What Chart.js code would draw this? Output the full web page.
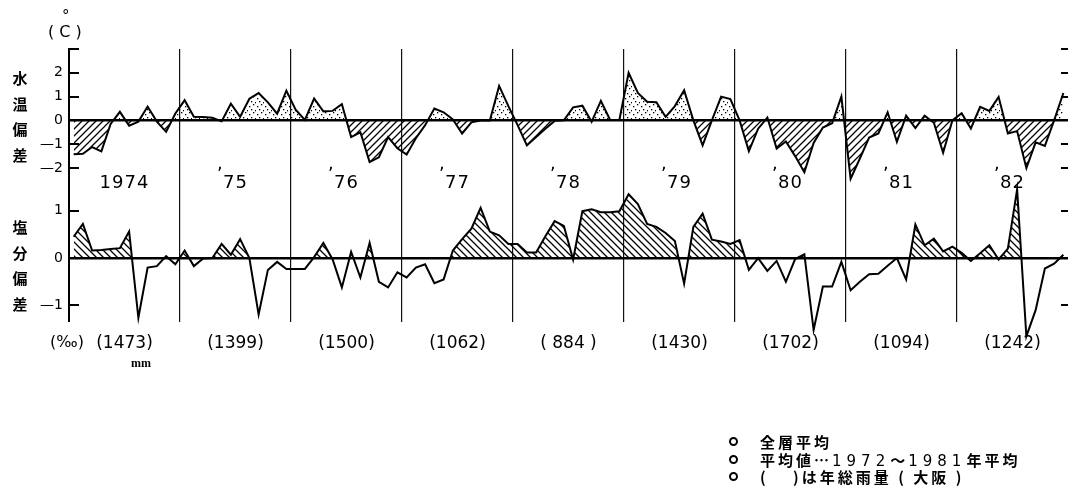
<!DOCTYPE html>
<html>
<head>
<meta charset="utf-8">
<script src="https://cdn.jsdelivr.net/npm/chart.js@4.4.1/dist/chart.umd.min.js"></script>
<style>
  html, body { margin: 0; padding: 0; background: #fff; }
  #wrap { position: relative; width: 1068px; height: 502px; overflow: hidden; font-family: "DejaVu Sans", sans-serif; color: #000; }
  #c { position: absolute; left: 0; top: 0; }
  .t { position: absolute; white-space: nowrap; line-height: 1; }
  .jp { font-family: "Noto Sans CJK JP", sans-serif; font-weight: 700; }
  .vt { position: absolute; left: 12px; width: 16px; font-size: 15px; line-height: 25.5px; text-align: center; }
  .yr { position: absolute; top: 173px; font-size: 18px; line-height: 1; transform: translateX(-50%); letter-spacing: 1px; }
  .yr i { position: absolute; left: -6px; top: -19px; font-style: normal; }
  .rain { position: absolute; top: 334px; font-size: 17px; line-height: 1; transform: translateX(-50%); }
  .note { position: absolute; left: 760px; font-size: 15px; letter-spacing: 3px; line-height: 1; }
  .note .n { letter-spacing: 5px; font-family: "DejaVu Sans", sans-serif; font-weight: 400; }
  .bul { position: absolute; left: 729px; width: 5px; height: 5px; border: 2px solid #000; border-radius: 50%; }
</style>
</head>
<body>
<div id="wrap">
  <canvas id="c" width="1068" height="502"></canvas>

  <div class="t" style="left:48px;top:24px;font-size:16px;">( C )</div>
  <div class="t" style="left:62px;top:9px;font-size:15px;">°</div>

  <div class="vt jp" style="top:65px;">水<br>温<br>偏<br>差</div>
  <div class="vt jp" style="top:214px;">塩<br>分<br>偏<br>差</div>

  <div class="t" style="left:50px;top:334px;font-size:16px;">(‰)</div>
  <div class="t" style="left:131px;top:357px;font-size:12px;font-family:'Liberation Serif',serif;font-weight:700;">mm</div>

  <div class="bul" style="top:437px;"></div>
  <div class="bul" style="top:455px;"></div>
  <div class="bul" style="top:472px;"></div>
  <div class="note jp" style="top:434px;">全層平均</div>
  <div class="note jp" style="top:452px;">平均値…<span class="n">1972</span>〜<span class="n">1981</span>年平均</div>
  <div class="note jp" style="top:469px;">(　 )は年総雨量 ( 大阪 )</div>
</div>

<script>
// monthly deviations from the 1972-1981 mean, Jan 1974 .. Dec 1982
const years = [1974, 1975, 1976, 1977, 1978, 1979, 1980, 1981, 1982];
const rainfall = [1473, 1399, 1500, 1062, 884, 1430, 1702, 1094, 1242]; // mm, Osaka

const tempDev = [
  -1.42, -1.40, -1.12, -1.30, -0.15, 0.36, -0.22, -0.05, 0.58, -0.05, -0.48, 0.29,
  0.85, 0.15, 0.14, 0.11, -0.04, 0.70, 0.15, 0.91, 1.15, 0.76, 0.28, 1.25,
  0.45, 0.02, 0.92, 0.38, 0.40, 0.68, -0.70, -0.50, -1.75, -1.55, -0.70, -1.17,
  -1.44, -0.75, -0.20, 0.50, 0.34, 0.04, -0.55, -0.08, 0.00, 0.00, 1.45, 0.60,
  -0.20, -1.05, -0.70, -0.35, -0.02, 0.00, 0.55, 0.62, -0.06, 0.82, 0.02, 0.02,
  2.00, 1.15, 0.78, 0.76, 0.15, 0.60, 1.27, 0.00, -1.05, 0.00, 1.00, 0.90,
  0.00, -1.30, -0.35, 0.12, -1.18, -0.88, -1.50, -2.18, -0.95, -0.30, -0.12, 1.00,
  -2.45, -1.60, -0.72, -0.55, 0.34, -0.90, 0.20, -0.32, 0.20, -0.10, -1.36, 0.00,
  0.30, -0.34, 0.57, 0.40, 0.99, -0.55, -0.45, -2.00, -0.92, -1.07, 0.00, 1.15
];

const salDev = [
  0.45, 0.72, 0.16, 0.17, 0.19, 0.21, 0.56, -1.26, -0.20, -0.17, 0.04, -0.13,
  0.16, -0.17, -0.01, 0.00, 0.30, 0.07, 0.40, 0.00, -1.19, -0.25, -0.08, -0.23,
  -0.23, -0.23, 0.02, 0.32, -0.03, -0.62, 0.13, -0.41, 0.32, -0.50, -0.62, -0.30,
  -0.41, -0.20, -0.13, -0.53, -0.45, 0.16, 0.40, 0.62, 1.06, 0.56, 0.48, 0.30,
  0.30, 0.12, 0.12, 0.46, 0.78, 0.68, -0.03, 0.99, 1.03, 0.97, 0.97, 0.99,
  1.35, 1.14, 0.72, 0.66, 0.53, 0.36, -0.54, 0.66, 0.94, 0.39, 0.35, 0.30,
  0.38, -0.25, 0.00, -0.27, -0.06, -0.50, -0.02, 0.08, -1.52, -0.60, -0.60, -0.08,
  -0.68, -0.50, -0.34, -0.33, -0.16, 0.00, -0.45, 0.71, 0.27, 0.41, 0.14, 0.24,
  0.11, -0.06, 0.10, 0.27, -0.03, 0.20, 1.45, -1.65, -1.10, -0.22, -0.12, 0.07
];

const tempTicks = [-2, -1, 0, 1, 2, 3];
const salTicks = [-1, 0, 1];
const monthLabels = years.flatMap(y => ['1','2','3','4','5','6','7','8','9','10','11','12'].map(m => y + '-' + m));

const canvas = document.getElementById('c');
const mainCtx = canvas.getContext('2d');

// fill textures: dots for warm, hatching for cold / saline
function tile(size, draw) {
  const c = document.createElement('canvas');
  c.width = c.height = size;
  const g = c.getContext('2d');
  draw(g, size);
  return mainCtx.createPattern(c, 'repeat');
}
const dots = tile(8, (g) => {
  g.fillStyle = '#000';
  [[1, 2], [5, 0], [3, 5], [7, 6]].forEach(p => g.fillRect(p[0], p[1], 1.3, 1.3));
});
const hatchUp = tile(7, (g, s) => {
  g.strokeStyle = '#000'; g.lineWidth = 1.3;
  g.beginPath();
  g.moveTo(-1, s + 1); g.lineTo(s + 1, -1);
  g.moveTo(-1, 1); g.lineTo(1, -1);
  g.moveTo(s - 1, s + 1); g.lineTo(s + 1, s - 1);
  g.stroke();
});
const hatchDown = tile(7, (g, s) => {
  g.strokeStyle = '#000'; g.lineWidth = 1.3;
  g.beginPath();
  g.moveTo(-1, -1); g.lineTo(s + 1, s + 1);
  g.moveTo(s - 1, -1); g.lineTo(s + 1, 1);
  g.moveTo(-1, s - 1); g.lineTo(1, s + 1);
  g.stroke();
});

const fmt = v => v < 0 ? '\u2014' + Math.abs(v) : String(v);

// short inward ticks on both sides, like the printed frame
const tickMarks = {
  id: 'tickMarks',
  afterDatasetsDraw(chart) {
    const { ctx, chartArea } = chart;
    ctx.save();
    ctx.strokeStyle = '#000';
    ctx.lineWidth = 2;
    [['yT', tempTicks], ['yS', salTicks]].forEach(([id, list]) => {
      const s = chart.scales[id];
      list.filter(v => v !== 0).forEach(v => {
        const y = Math.round(s.getPixelForValue(v));
        ctx.beginPath();
        ctx.moveTo(chartArea.left, y); ctx.lineTo(chartArea.left + 10, y);
        ctx.moveTo(chartArea.right - 7, y); ctx.lineTo(chartArea.right, y);
        ctx.stroke();
      });
    });
    ctx.restore();
  }
};

const yBase = {
  position: 'left',
  stack: 'panels',
  border: { display: true, color: '#000', width: 2 },
  grid: {
    drawTicks: false,
    color: ctx => ctx.tick && ctx.tick.value === 0 ? '#000' : 'rgba(0,0,0,0)',
    lineWidth: ctx => ctx.tick && ctx.tick.value === 0 ? 2.5 : 0
  },
  afterFit: s => { s.width = 69; }
};
const tickFont = { family: 'DejaVu Sans', size: 14 };

const chart = new Chart(canvas, {
  type: 'line',
  data: {
    labels: monthLabels,
    datasets: [
      {
        label: '水温偏差', data: tempDev, yAxisID: 'yT', clip: false,
        borderColor: '#000', borderWidth: 2, pointRadius: 0, tension: 0,
        fill: { target: 'origin', above: dots, below: hatchUp }
      },
      {
        label: '塩分偏差', data: salDev, yAxisID: 'yS', clip: false,
        borderColor: '#000', borderWidth: 2, pointRadius: 0, tension: 0,
        fill: { target: 'origin', above: hatchDown, below: 'rgba(0,0,0,0)' }
      }
    ]
  },
  options: {
    responsive: false,
    animation: false,
    devicePixelRatio: 1,
    layout: { padding: { top: 49, bottom: 180, left: 0, right: 0 } },
    plugins: { legend: { display: false }, tooltip: { enabled: false } },
    scales: {
      x: {
        type: 'category',
        offset: true,
        ticks: { display: false, autoSkip: false },
        border: { display: false },
        grid: {
          offset: true,
          drawTicks: false,
          color: ctx => (ctx.index > 0 && ctx.index < monthLabels.length && ctx.index % 12 === 0) ? '#111' : 'rgba(0,0,0,0)',
          lineWidth: 1.2
        },
        afterFit: s => { s.height = 0; }
      },
      yS: Object.assign({}, yBase, {
        stackWeight: 130.2,
        min: -1.35, max: 1.4,
        afterBuildTicks: s => { s.ticks = salTicks.map(v => ({ value: v })); },
        ticks: { color: '#000', padding: 6, autoSkip: false, font: tickFont, callback: v => fmt(v) }
      }),
      yT: Object.assign({}, yBase, {
        stackWeight: 142.8,
        min: -3, max: 3,
        afterBuildTicks: s => { s.ticks = tempTicks.map(v => ({ value: v })); },
        ticks: { color: '#000', padding: 6, autoSkip: false, font: tickFont, callback: v => v === 3 ? '' : fmt(v) }
      })
    }
  },
  plugins: [tickMarks]
});

// year and rainfall captions, centred on each year's span of the x scale
const wrap = document.getElementById('wrap');
const xs = chart.scales.x;
years.forEach((y, i) => {
  const mid = (xs.getPixelForValue(i * 12 + 5) + xs.getPixelForValue(i * 12 + 6)) / 2;
  const yl = document.createElement('span');
  yl.className = 'yr';
  yl.style.left = mid + 'px';
  yl.innerHTML = i === 0 ? String(y) : '<i>,</i>' + String(y).slice(2);
  wrap.appendChild(yl);
  const rl = document.createElement('span');
  rl.className = 'rain';
  rl.style.left = mid + 'px';
  rl.textContent = rainfall[i] < 1000 ? '( ' + rainfall[i] + ' )' : '(' + rainfall[i] + ')';
  wrap.appendChild(rl);
});
</script>
</body>
</html>
